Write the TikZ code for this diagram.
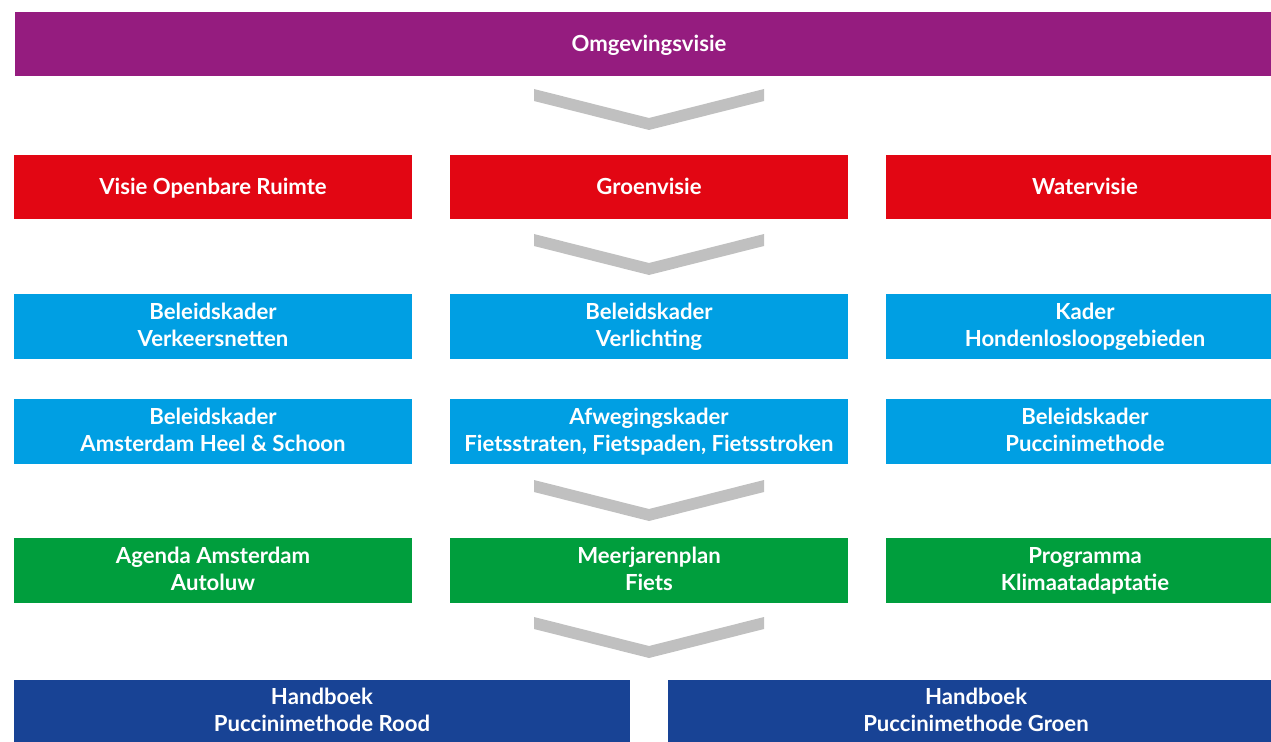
\documentclass[tikz,border=0pt]{standalone}
\usepackage{fontspec}
\setmainfont{Lato}
\usetikzlibrary{positioning}
\definecolor{omgpurple}{HTML}{951C7F}
\definecolor{visred}{HTML}{E20613}
\definecolor{kaderblue}{HTML}{009FE3}
\definecolor{proggreen}{HTML}{009E3D}
\definecolor{handblue}{HTML}{184395}
\definecolor{chevgrey}{HTML}{C0C0C0}
% fixed line height so one- and two-line labels sit alike
\newcommand{\boxstrut}{\rule[-2.2pt]{0pt}{13.2pt}}
\tikzset{
  box/.style  ={inner sep=0pt,outer sep=0pt,align=center,text=white,
                font=\fontsize{12.6}{15.4}\selectfont\bfseries,
                execute at begin node=\boxstrut,execute at end node=\boxstrut,
                minimum width=7.96cm,minimum height=1.29cm},
  visie/.style={box,fill=visred},
  kader/.style={box,fill=kaderblue,minimum height=1.30cm},
  prog/.style ={box,fill=proggreen,minimum height=1.30cm},
  hand/.style ={box,fill=handblue,minimum width=12.32cm,minimum height=1.26cm},
}
% chevron pointing down, #1 = x of the tip, #2 = y of the top edge
\newcommand{\chevr}[2]{%
  \fill[chevgrey] (#1-2.30,#2) -- (#1,#2-0.58) -- (#1+2.30,#2) -- (#1+2.30,#2-0.24)
    -- (#1,#2-0.82) -- (#1-2.30,#2-0.24) -- cycle;
}

\begin{document}
\begin{tikzpicture}

\path[use as bounding box] (0,0) rectangle (25.42,-14.84);
\clip (0,0) rectangle (25.42,-14.84);

% ===================== VISIE ========================================
\node[box,fill=omgpurple,minimum width=25.36cm,minimum height=1.28cm] (omg) at (12.98,-0.88) {Omgevingsvisie};
\chevr{12.98}{-1.78}

\node[visie] (vor) at (4.26,-3.74)  {Visie Openbare Ruimte};
\node[visie] (grv) at (12.98,-3.74) {Groenvisie};
\node[visie] (wtv) at (21.70,-3.74) {Watervisie};
\chevr{12.98}{-4.68}

% ===================== KADERS =======================================
\node[kader] (bvn)  at (4.26,-6.53)  {Beleidskader\\Verkeersnetten};
\node[kader] (bvl)  at (12.98,-6.53) {Beleidskader\\Verlichting};
\node[kader] (khd)  at (21.70,-6.53) {Kader\\Hondenlosloopgebieden};
\node[kader] (bahs) at (4.26,-8.63)  {Beleidskader\\Amsterdam Heel \& Schoon};
\node[kader] (afw)  at (12.98,-8.63) {Afwegingskader\\Fietsstraten, Fietspaden, Fietsstroken};
\node[kader] (bpm)  at (21.70,-8.63) {Beleidskader\\Puccinimethode};
\chevr{12.98}{-9.60}

% ===================== PROGRAMMA'S ==================================
\node[prog] (aaa) at (4.26,-11.41)  {Agenda Amsterdam\\Autoluw};
\node[prog] (mjf) at (12.98,-11.41) {Meerjarenplan\\Fiets};
\node[prog] (pka) at (21.70,-11.41) {Programma\\Klimaatadaptatie};
\chevr{12.98}{-12.34}

% ===================== HANDBOEKEN ===================================
\node[hand] (hpr) at (6.44,-14.23)  {Handboek\\Puccinimethode Rood};
\node[hand] (hpg) at (19.52,-14.23) {Handboek\\Puccinimethode Groen};

\end{tikzpicture}
\end{document}
